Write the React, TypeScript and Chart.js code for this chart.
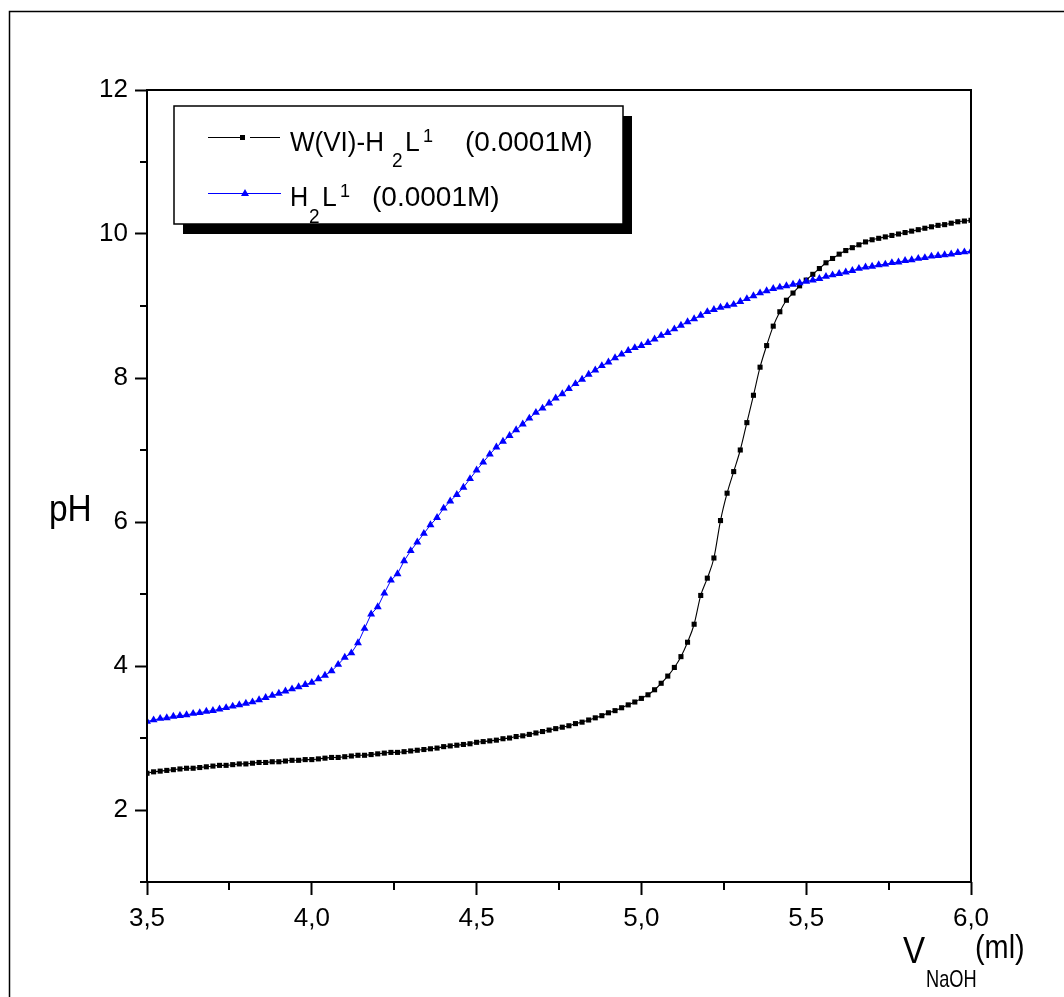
import React, { useEffect, useRef } from "react";
import { Chart, registerables } from "chart.js";

Chart.register(...registerables);

// Titrant volume (ml)
const VOLUME_ML = [
  3.5, 3.52, 3.54, 3.56, 3.58, 3.6, 3.62, 3.64, 3.66, 3.68, 3.7, 3.72, 3.74, 3.76, 3.78, 3.8, 3.82, 3.84, 3.86, 3.88,
  3.9, 3.92, 3.94, 3.96, 3.98, 4.0, 4.02, 4.04, 4.06, 4.08, 4.1, 4.12, 4.14, 4.16, 4.18, 4.2, 4.22, 4.24, 4.26, 4.28,
  4.3, 4.32, 4.34, 4.36, 4.38, 4.4, 4.42, 4.44, 4.46, 4.48, 4.5, 4.52, 4.54, 4.56, 4.58, 4.6, 4.62, 4.64, 4.66, 4.68,
  4.7, 4.72, 4.74, 4.76, 4.78, 4.8, 4.82, 4.84, 4.86, 4.88, 4.9, 4.92, 4.94, 4.96, 4.98, 5.0, 5.02, 5.04, 5.06, 5.08,
  5.1, 5.12, 5.14, 5.16, 5.18, 5.2, 5.22, 5.24, 5.26, 5.28, 5.3, 5.32, 5.34, 5.36, 5.38, 5.4, 5.42, 5.44, 5.46, 5.48,
  5.5, 5.52, 5.54, 5.56, 5.58, 5.6, 5.62, 5.64, 5.66, 5.68, 5.7, 5.72, 5.74, 5.76, 5.78, 5.8, 5.82, 5.84, 5.86, 5.88,
  5.9, 5.92, 5.94, 5.96, 5.98, 6.0,
];

// pH of W(VI)-H2L1 (0.0001M)
const PH_W_COMPLEX = [
  2.51, 2.53, 2.54, 2.55, 2.56, 2.57, 2.58, 2.58, 2.59, 2.6, 2.61, 2.62, 2.62, 2.63, 2.64, 2.64, 2.65, 2.66, 2.66, 2.67,
  2.67, 2.68, 2.69, 2.69, 2.7, 2.7, 2.71, 2.72, 2.73, 2.73, 2.74, 2.75, 2.76, 2.76, 2.77, 2.78, 2.79, 2.8, 2.8, 2.81,
  2.82, 2.83, 2.84, 2.85, 2.86, 2.88, 2.89, 2.9, 2.91, 2.92, 2.94, 2.95, 2.96, 2.97, 2.99, 3.0, 3.02, 3.03, 3.05, 3.07,
  3.09, 3.11, 3.13, 3.15, 3.17, 3.2, 3.22, 3.25, 3.28, 3.31, 3.35, 3.38, 3.42, 3.46, 3.5, 3.55, 3.6, 3.67, 3.76, 3.86,
  3.98, 4.13, 4.33, 4.58, 4.98, 5.22, 5.5, 6.02, 6.4, 6.7, 7.0, 7.38, 7.76, 8.15, 8.45, 8.72, 8.92, 9.08, 9.18, 9.28,
  9.36, 9.44, 9.52, 9.6, 9.66, 9.72, 9.77, 9.81, 9.85, 9.89, 9.92, 9.94, 9.96, 9.98, 10.0, 10.02, 10.04, 10.06, 10.08, 10.1,
  10.12, 10.13, 10.15, 10.17, 10.18, 10.19,
];

// pH of H2L1 (0.0001M)
const PH_LIGAND = [
  3.23, 3.25, 3.27, 3.28, 3.3, 3.31, 3.32, 3.34, 3.35, 3.37, 3.38, 3.4, 3.42, 3.44, 3.46, 3.48, 3.5, 3.53, 3.56, 3.59,
  3.62, 3.65, 3.68, 3.71, 3.74, 3.77, 3.82, 3.87, 3.93, 4.02, 4.12, 4.18, 4.32, 4.52, 4.72, 4.82, 5.01, 5.19, 5.28, 5.46,
  5.6, 5.72, 5.84, 5.96, 6.06, 6.19, 6.29, 6.38, 6.48, 6.6, 6.72, 6.83, 6.94, 7.04, 7.12, 7.2, 7.28, 7.36, 7.44, 7.52,
  7.58, 7.65, 7.72, 7.78, 7.85, 7.92, 7.98, 8.05, 8.11, 8.17, 8.22, 8.28, 8.33, 8.38, 8.42, 8.45, 8.49, 8.54, 8.59, 8.63,
  8.68, 8.73, 8.78, 8.82, 8.87, 8.92, 8.95, 8.98, 9.0, 9.02, 9.06, 9.1, 9.14, 9.18, 9.21, 9.24, 9.26, 9.28, 9.3, 9.32,
  9.34, 9.36, 9.38, 9.41, 9.43, 9.45, 9.47, 9.49, 9.52, 9.54, 9.55, 9.57, 9.58, 9.6, 9.61, 9.63, 9.64, 9.66, 9.67, 9.69,
  9.7, 9.71, 9.72, 9.74, 9.75, 9.76,
];

const X_MAJOR_TICKS = [3.5, 4.0, 4.5, 5.0, 5.5, 6.0];
const X_MINOR_TICKS = [3.75, 4.25, 4.75, 5.25, 5.75];
const Y_MAJOR_TICKS = [2, 4, 6, 8, 10, 12];
const Y_MINOR_TICKS = [1, 3, 5, 7, 9, 11];

const FONT = '"Liberation Sans", Arial, Helvetica, sans-serif';
const BLUE = "#0000ff";

function condensedText(ctx: CanvasRenderingContext2D, text: string, x: number, y: number, size: number, sx: number) {
  ctx.save();
  ctx.font = `${size}px ${FONT}`;
  ctx.translate(x, y);
  ctx.scale(sx, 1);
  ctx.fillText(text, 0, 0);
  ctx.restore();
}

const decorPlugin = {
  id: "decor",
  afterDraw(chart: any) {
    const ctx: CanvasRenderingContext2D = chart.ctx;
    const { left, right, top, bottom } = chart.chartArea;
    const xs = chart.scales.x;
    const ys = chart.scales.y;
    ctx.save();
    ctx.strokeStyle = "#000";
    ctx.fillStyle = "#000";

    // outer frame
    ctx.lineWidth = 1.5;
    ctx.beginPath();
    ctx.moveTo(9.5, 997);
    ctx.lineTo(9.5, 11.5);
    ctx.lineTo(1064, 11.5);
    ctx.stroke();

    // plot frame
    ctx.lineWidth = 2;
    ctx.strokeRect(left, top, right - left, bottom - top);

    // minor ticks
    ctx.lineWidth = 2;
    ctx.beginPath();
    Y_MINOR_TICKS.forEach((v) => {
      const y = Math.round(ys.getPixelForValue(v));
      ctx.moveTo(left - 7, y);
      ctx.lineTo(left, y);
    });
    X_MINOR_TICKS.forEach((v) => {
      const x = Math.round(xs.getPixelForValue(v));
      ctx.moveTo(x, bottom);
      ctx.lineTo(x, bottom + 8);
    });
    ctx.stroke();

    // axis titles
    ctx.textBaseline = "alphabetic";
    ctx.textAlign = "left";
    condensedText(ctx, "pH", 49, 521, 36, 0.93);
    condensedText(ctx, "V", 903, 963, 36, 0.92);
    condensedText(ctx, "NaOH", 926, 987, 24, 0.76);
    condensedText(ctx, "(ml)", 975, 958, 34, 0.85);

    // legend shadow + box
    const bx = 174, by = 106, bw = 449, bh = 118;
    ctx.fillRect(bx + 9, by + 10, bw, bh);
    ctx.fillStyle = "#fff";
    ctx.fillRect(bx, by, bw, bh);
    ctx.fillStyle = "#000";
    ctx.lineWidth = 1.5;
    ctx.strokeRect(bx, by, bw, bh);

    // row 1 symbol
    ctx.lineWidth = 1;
    ctx.beginPath();
    ctx.moveTo(208, 137.5);
    ctx.lineTo(240, 137.5);
    ctx.moveTo(250, 137.5);
    ctx.lineTo(280, 137.5);
    ctx.stroke();
    ctx.fillRect(240, 135, 5, 5);
    // row 2 symbol
    ctx.strokeStyle = BLUE;
    ctx.fillStyle = BLUE;
    ctx.beginPath();
    ctx.moveTo(208, 193.5);
    ctx.lineTo(281, 193.5);
    ctx.stroke();
    ctx.beginPath();
    ctx.moveTo(245, 189);
    ctx.lineTo(249, 196);
    ctx.lineTo(241, 196);
    ctx.closePath();
    ctx.fill();

    // legend text
    ctx.fillStyle = "#000";
    condensedText(ctx, "W(VI)-H", 290, 151, 28, 0.93);
    condensedText(ctx, "2", 392, 167, 20, 0.95);
    condensedText(ctx, "L", 405, 151, 28, 0.95);
    condensedText(ctx, "1", 423, 142, 19, 0.95);
    condensedText(ctx, "(0.0001M)", 465, 151, 28, 1);

    condensedText(ctx, "H", 290, 206, 28, 0.9);
    condensedText(ctx, "2", 309, 223, 20, 0.95);
    condensedText(ctx, "L", 322, 206, 28, 0.95);
    condensedText(ctx, "1", 340, 197, 19, 0.95);
    condensedText(ctx, "(0.0001M)", 372, 206, 28, 1);

    ctx.restore();
  },
};

export default function App() {
  const canvasRef = useRef<HTMLCanvasElement | null>(null);

  useEffect(() => {
    const canvas = canvasRef.current;
    if (!canvas) return;
    const chart = new Chart(canvas, {
      type: "line",
      data: {
        datasets: [
          {
            label: "W(VI)-H2L1 (0.0001M)",
            data: VOLUME_ML.map((x, i) => ({ x, y: PH_W_COMPLEX[i] })),
            borderColor: "#000",
            backgroundColor: "#000",
            borderWidth: 1.1,
            pointStyle: "rect",
            pointRadius: 3.6,
            pointBorderWidth: 0,
            pointBackgroundColor: "#000",
            cubicInterpolationMode: "monotone",
            order: 2,
          },
          {
            label: "H2L1 (0.0001M)",
            data: VOLUME_ML.map((x, i) => ({ x, y: PH_LIGAND[i] })),
            borderColor: BLUE,
            backgroundColor: BLUE,
            borderWidth: 1,
            pointStyle: "triangle",
            pointRadius: 4.6,
            pointBorderWidth: 0,
            pointBackgroundColor: BLUE,
            tension: 0,
            order: 1,
          },
        ],
      },
      options: {
        responsive: false,
        animation: false,
        devicePixelRatio: 1,
        layout: { padding: { top: 90, right: 93, left: 0, bottom: 0 } },
        plugins: { legend: { display: false }, tooltip: { enabled: false }, title: { display: false } },
        scales: {
          x: {
            type: "linear",
            min: 3.5,
            max: 6.0,
            afterBuildTicks: (s: any) => {
              s.ticks = X_MAJOR_TICKS.map((v) => ({ value: v }));
            },
            afterFit: (s: any) => {
              s.height = 115;
            },
            border: { display: false },
            grid: { drawOnChartArea: false, drawTicks: true, tickLength: 13, tickWidth: 2, tickColor: "#000" },
            ticks: {
              color: "#000",
              font: { family: FONT, size: 26 },
              padding: 8,
              maxRotation: 0,
              autoSkip: false,
              callback: (v: any) => Number(v).toFixed(1).replace(".", ","),
            },
          },
          y: {
            type: "linear",
            min: 1,
            max: 12,
            afterBuildTicks: (s: any) => {
              s.ticks = Y_MAJOR_TICKS.map((v) => ({ value: v }));
            },
            afterFit: (s: any) => {
              s.width = 147;
            },
            border: { display: false },
            grid: { drawOnChartArea: false, drawTicks: true, tickLength: 12, tickWidth: 2, tickColor: "#000" },
            ticks: {
              color: "#000",
              font: { family: FONT, size: 26 },
              padding: 7,
              autoSkip: false,
              callback: (v: any) => String(v),
            },
          },
        },
      },
      plugins: [decorPlugin],
    });
    return () => chart.destroy();
  }, []);

  return (
    <div style={{ position: "fixed", left: 0, top: 0, width: 1064, height: 997, background: "#fff" }}>
      <canvas ref={canvasRef} width={1064} height={997} style={{ width: 1064, height: 997, display: "block" }} />
    </div>
  );
}
